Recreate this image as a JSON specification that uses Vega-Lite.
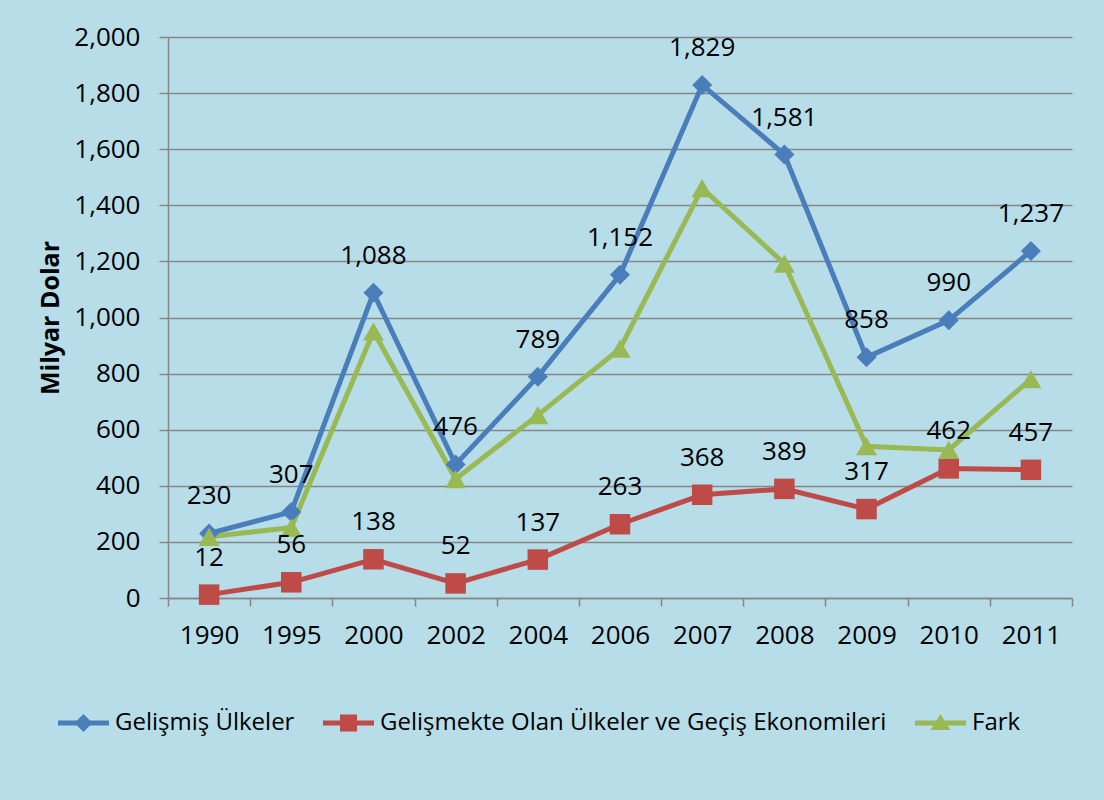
{
  "$schema": "https://vega.github.io/schema/vega-lite/v6.json",
  "width": 904,
  "height": 561,
  "autosize": {"type": "none"},
  "padding": {"left": 168, "top": 37, "right": 32, "bottom": 202},
  "background": "#b7dde8",
  "config": {
    "font": "Open Sans",
    "view": {"stroke": null}
  },
  "data": {
    "values": [
      {"yil": "1990", "seri": "Gelişmiş Ülkeler", "deger": 230},
      {"yil": "1995", "seri": "Gelişmiş Ülkeler", "deger": 307},
      {"yil": "2000", "seri": "Gelişmiş Ülkeler", "deger": 1088},
      {"yil": "2002", "seri": "Gelişmiş Ülkeler", "deger": 476},
      {"yil": "2004", "seri": "Gelişmiş Ülkeler", "deger": 789},
      {"yil": "2006", "seri": "Gelişmiş Ülkeler", "deger": 1152},
      {"yil": "2007", "seri": "Gelişmiş Ülkeler", "deger": 1829},
      {"yil": "2008", "seri": "Gelişmiş Ülkeler", "deger": 1581},
      {"yil": "2009", "seri": "Gelişmiş Ülkeler", "deger": 858},
      {"yil": "2010", "seri": "Gelişmiş Ülkeler", "deger": 990},
      {"yil": "2011", "seri": "Gelişmiş Ülkeler", "deger": 1237},
      {"yil": "1990", "seri": "Gelişmekte Olan Ülkeler ve Geçiş Ekonomileri", "deger": 12},
      {"yil": "1995", "seri": "Gelişmekte Olan Ülkeler ve Geçiş Ekonomileri", "deger": 56},
      {"yil": "2000", "seri": "Gelişmekte Olan Ülkeler ve Geçiş Ekonomileri", "deger": 138},
      {"yil": "2002", "seri": "Gelişmekte Olan Ülkeler ve Geçiş Ekonomileri", "deger": 52},
      {"yil": "2004", "seri": "Gelişmekte Olan Ülkeler ve Geçiş Ekonomileri", "deger": 137},
      {"yil": "2006", "seri": "Gelişmekte Olan Ülkeler ve Geçiş Ekonomileri", "deger": 263},
      {"yil": "2007", "seri": "Gelişmekte Olan Ülkeler ve Geçiş Ekonomileri", "deger": 368},
      {"yil": "2008", "seri": "Gelişmekte Olan Ülkeler ve Geçiş Ekonomileri", "deger": 389},
      {"yil": "2009", "seri": "Gelişmekte Olan Ülkeler ve Geçiş Ekonomileri", "deger": 317},
      {"yil": "2010", "seri": "Gelişmekte Olan Ülkeler ve Geçiş Ekonomileri", "deger": 462},
      {"yil": "2011", "seri": "Gelişmekte Olan Ülkeler ve Geçiş Ekonomileri", "deger": 457},
      {"yil": "1990", "seri": "Fark", "deger": 218},
      {"yil": "1995", "seri": "Fark", "deger": 251},
      {"yil": "2000", "seri": "Fark", "deger": 950},
      {"yil": "2002", "seri": "Fark", "deger": 424},
      {"yil": "2004", "seri": "Fark", "deger": 652},
      {"yil": "2006", "seri": "Fark", "deger": 889},
      {"yil": "2007", "seri": "Fark", "deger": 1461},
      {"yil": "2008", "seri": "Fark", "deger": 1192},
      {"yil": "2009", "seri": "Fark", "deger": 541},
      {"yil": "2010", "seri": "Fark", "deger": 528},
      {"yil": "2011", "seri": "Fark", "deger": 780}
    ]
  },
  "encoding": {
    "x": {
      "field": "yil",
      "type": "ordinal",
      "sort": null,
      "scale": {"type": "band", "paddingInner": 0, "paddingOuter": 0},
      "axis": {
        "title": null,
        "labelAngle": 0,
        "labelFontSize": 26,
        "labelColor": "black",
        "labelPadding": 16,
        "tickBand": "extent",
        "tickSize": 8,
        "tickColor": "#868686",
        "tickWidth": 1.5,
        "domainColor": "#868686",
        "domainWidth": 1.5,
        "grid": false
      }
    },
    "y": {
      "field": "deger",
      "type": "quantitative",
      "scale": {"domain": [0, 2000], "nice": false},
      "axis": {
        "title": "Milyar Dolar",
        "titleFontSize": 25,
        "titleFontWeight": "bold",
        "titleColor": "black",
        "titlePadding": 10,
        "values": [0, 200, 400, 600, 800, 1000, 1200, 1400, 1600, 1800, 2000],
        "format": ",.0f",
        "labelFontSize": 26,
        "labelColor": "black",
        "labelPadding": 19,
        "tickSize": 9,
        "tickColor": "#868686",
        "tickWidth": 1.5,
        "domainColor": "#868686",
        "domainWidth": 1.5,
        "grid": true,
        "gridColor": "#868686",
        "gridWidth": 1.5
      }
    },
    "color": {
      "field": "seri",
      "type": "nominal",
      "scale": {
        "domain": ["Gelişmiş Ülkeler", "Gelişmekte Olan Ülkeler ve Geçiş Ekonomileri", "Fark"],
        "range": ["#4a7ebb", "#be4b48", "#98b954"]
      },
      "legend": {
        "orient": "none",
        "legendX": -112,
        "legendY": 674,
        "direction": "horizontal",
        "title": null,
        "padding": 0,
        "labelFontSize": 24,
        "labelColor": "black",
        "labelLimit": 0,
        "symbolSize": 400,
        "symbolOpacity": 1,
        "symbolStrokeWidth": 0,
        "labelOffset": 35,
        "columnPadding": 26,
        "encode": {
          "symbols": {
            "update": {
              "shape": {
                "signal": "datum.value === 'Gelişmiş Ülkeler' ? 'M-1,-0.25H0.9L1.55,-0.9L2.2,-0.25H4.1V0.25H2.2L1.55,0.9L0.9,0.25H-1Z' : datum.value === 'Fark' ? 'M-1,-0.25H1.144L1.55,-0.9L1.956,-0.25H4.1V0.25H2.269L2.55,0.7H0.55L0.831,0.25H-1Z' : 'M-1,-0.25H0.7V-0.85H2.4V-0.25H4.1V0.25H2.4V0.85H0.7V0.25H-1Z'"
              },
              "fill": {"scale": "color", "field": "value"},
              "strokeWidth": {"value": 0}
            }
          }
        }
      }
    }
  },
  "layer": [
    {
      "mark": {"type": "line", "strokeWidth": 5}
    },
    {
      "transform": [{"filter": "datum.seri === 'Gelişmiş Ülkeler'"}],
      "mark": {"type": "point", "filled": true, "opacity": 1, "size": 400, "shape": "diamond"}
    },
    {
      "transform": [{"filter": "datum.seri === 'Gelişmekte Olan Ülkeler ve Geçiş Ekonomileri'"}],
      "mark": {"type": "point", "filled": true, "opacity": 1, "size": 420, "shape": "square"}
    },
    {
      "transform": [{"filter": "datum.seri === 'Fark'"}],
      "mark": {"type": "point", "filled": true, "opacity": 1, "size": 440, "shape": "triangle-up"}
    },
    {
      "transform": [{"filter": "datum.seri !== 'Fark'"}],
      "mark": {"type": "text", "dy": -37, "fontSize": 26, "color": "black", "baseline": "middle"},
      "encoding": {
        "text": {"field": "deger", "type": "quantitative", "format": ","},
        "color": {"value": "black"}
      }
    }
  ]
}
